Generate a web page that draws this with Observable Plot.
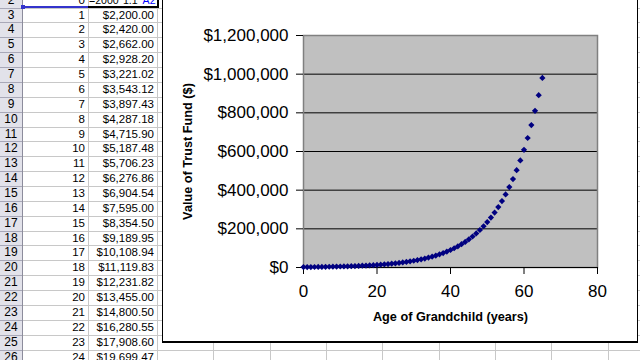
<!DOCTYPE html>
<html><head><meta charset="utf-8">
<script src="https://cdn.jsdelivr.net/npm/d3@7"></script>
<script src="https://cdn.jsdelivr.net/npm/@observablehq/plot@0.6"></script>
<style>
html,body{margin:0;padding:0;background:#fff;}
#sheet{position:relative;width:640px;height:360px;overflow:hidden;font-family:"Liberation Sans",Arial,sans-serif;font-size:11.5px;color:#000;background:#fff;}
.abs{position:absolute;}
.cell{position:absolute;white-space:nowrap;line-height:14.87px;height:14.87px;}
#chart{position:absolute;left:162px;top:-2px;width:474px;height:342px;border:1px solid #000;border-bottom:2px solid #000;background:#fff;overflow:hidden;}
#chart svg{display:block;}
</style></head>
<body>
<div id="sheet"><div id="chart"></div></div>
<script>
const ages = [0,1,2,3,4,5,6,7,8,9,10,11,12,13,14,15,16,17,18,19,20,21,22,23,24,25,26,27,28,29,30,31,32,33,34,35,36,37,38,39,40,41,42,43,44,45,46,47,48,49,50,51,52,53,54,55,56,57,58,59,60,61,62,63,64,65];
const values = [2000.00,2200.00,2420.00,2662.00,2928.20,3221.02,3543.12,3897.43,4287.18,4715.90,5187.48,5706.23,6276.86,6904.54,7595.00,8354.50,9189.95,10108.94,11119.83,12231.82,13455.00,14800.50,16280.55,17908.60,19699.47,21669.41,23836.35,26219.99,28841.99,31726.19,34898.80,38388.68,42227.55,46450.31,51095.34,56204.87,61825.36,68007.90,74808.69,82289.56,90518.51,99570.36,109527.40,120480.14,132528.15,145780.97,160359.06,176394.97,194034.47,213437.91,234781.71,258259.88,284085.86,312494.45,343743.90,378118.28,415930.11,457523.12,503275.44,553602.98,608963.28,669859.61,736845.57,810530.12,891583.14,980741.45];
const xTicks = [0,20,40,60,80];
const yTicks = [0,200000,400000,600000,800000,1000000,1200000];
const xTitle = "Age of Grandchild (years)";
const yTitle = "Value of Trust Fund ($)";
const formulaText = "=2000*1.1^";
const formulaRef = "A2";

// ---- worksheet background ----
const sheet = document.getElementById("sheet");
const chartDiv = document.getElementById("chart");
const rowH = 14.87;
const rowTop = k => 7.57 + (k - 3) * rowH;
const colEdges = [22, 88, 157, 213, 269.5, 326, 382, 438.5, 495, 551, 607.5, 664];
function add(style, text, cls) {
  const d = document.createElement("div");
  d.className = cls || "abs";
  Object.assign(d.style, style);
  if (text !== undefined) d.textContent = text;
  sheet.insertBefore(d, chartDiv);
  return d;
}
// header column
add({left:"0px", top:"0px", width:"22px", height:"360px", background:"#e2e2ea"});
add({left:"22px", top:"0px", width:"1px", height:"360px", background:"#8c8c9c"});
// row lines
for (let k = 2; k <= 27; k++) {
  const y = Math.round(rowTop(k)) + "px";
  add({left:"0px", top:y, width:"22px", height:"1px", background:"#a8a8b8"});
  add({left:"23px", top:y, width:"620px", height:"1px", background:"#c8c8c8"});
}
// column lines
colEdges.slice(1).forEach(x => add({left:Math.round(x) + "px", top:"0px", width:"1px", height:"360px", background:"#c8c8c8"}));
// rows 2..26 : age and value
const fmt = d3.format("$,.2f");
for (let i = 0; i <= 24; i++) {
  const k = i + 2;
  const top = rowTop(k) + "px";
  add({left:"0px", top:top, width:"22px", textAlign:"center", fontSize:"12px"}, String(k), "cell");
  add({left:"22px", top:top, width:"63px", textAlign:"right"}, String(ages[i]), "cell");
  if (i > 0) add({left:"88px", top:top, width:"66px", textAlign:"right"}, fmt(values[i]), "cell");
}
// editing formula in B2
const f = add({left:"89px", top:rowTop(2) + "px", fontSize:"10.6px"}, formulaText, "cell");
const s = document.createElement("span"); s.style.color = "#0000ff"; s.textContent = formulaRef; f.appendChild(s);
// reference highlight on A2 and active cell border on B2
add({left:"23px", top:"6px", width:"65px", height:"2px", background:"#3333cc"});
add({left:"21px", top:"5px", width:"4px", height:"4px", background:"#3333cc"});
add({left:"88px", top:"6px", width:"71px", height:"2px", background:"#000"});
add({left:"157px", top:"0px", width:"2px", height:"8px", background:"#000"});

// ---- chart ----
const data = ages.map((a, i) => ({age: a, value: values[i]}));
const chart = Plot.plot({
  width: 474, height: 342,
  marginLeft: 140, marginRight: 40, marginTop: 36, marginBottom: 74,
  style: {fontFamily: "'Liberation Sans', Arial, sans-serif", fontSize: "17px", background: "white", color: "black"},
  x: {domain: [0, 80]},
  y: {domain: [0, 1200000]},
  marks: [
    Plot.frame({fill: "#c0c0c0"}),
    Plot.gridY(yTicks, {stroke: "#000", strokeOpacity: 1, strokeWidth: 1}),
    Plot.frame({stroke: "#808080", strokeWidth: 1.5}),
    Plot.ruleY([0], {stroke: "#000"}),
    Plot.axisY({ticks: yTicks, tickFormat: d3.format("$,"), tickSize: 7, tickPadding: 8, label: null, fontSize: 17}),
    Plot.axisX({ticks: xTicks, tickSize: 7, tickPadding: 10, label: null, fontSize: 17}),
    Plot.dot(data, {x: "age", y: "value", symbol: "diamond2", r: 2.8, fill: "#000080", stroke: "none"}),
    Plot.text([xTitle], {frameAnchor: "bottom", dy: 53, textAnchor: "middle", fontWeight: "bold", fontSize: 12.7}),
    Plot.text([yTitle], {frameAnchor: "left", dx: -116, rotate: -90, textAnchor: "middle", fontWeight: "bold", fontSize: 12.7})
  ]
});
chartDiv.appendChild(chart);
</script>
</body></html>
